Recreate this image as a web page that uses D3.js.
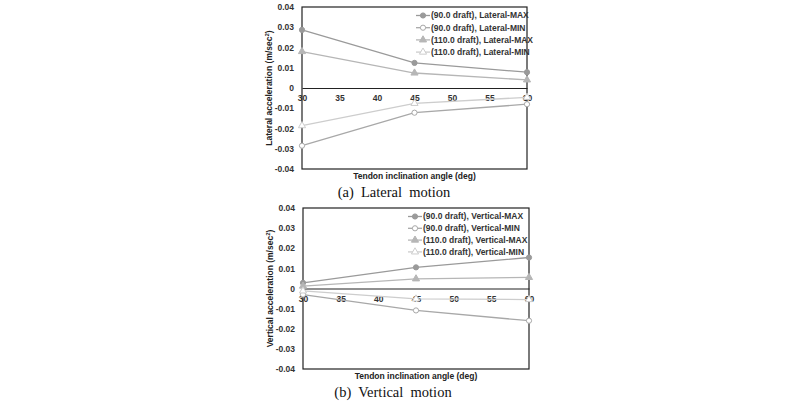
<!DOCTYPE html>
<html>
<head>
<meta charset="utf-8">
<script src="https://cdn.jsdelivr.net/npm/d3@7"></script>
<style>
  body { margin: 0; background: #fff; }
  svg { display: block; }
  .tick text { font-family: "Liberation Sans Narrow", "Liberation Sans", Arial, sans-serif; font-weight: bold; fill: #333; }
</style>
</head>
<body>
<svg id="chart" width="800" height="402"></svg>
<script>
// x values (tendon inclination angle, deg)
const angles = [30, 45, 60]
const xTicks = [30, 35, 40, 45, 50, 55, 60]
const yTicks = [-0.04, -0.03, -0.02, -0.01, 0, 0.01, 0.02, 0.03, 0.04]

// lateral motion
const lat90Max  = [0.0287, 0.0124, 0.0078]
const lat90Min  = [-0.0285, -0.0122, -0.0080]
const lat110Max = [0.0180, 0.0074, 0.0040]
const lat110Min = [-0.0186, -0.0076, -0.0046]

// vertical motion
const ver90Max  = [0.0028, 0.0105, 0.0154]
const ver90Min  = [-0.0030, -0.0109, -0.0160]
const ver110Max = [0.0012, 0.0048, 0.0055]
const ver110Min = [-0.0012, -0.0052, -0.0055]

const seriesStyle = [
  {color: "#9a9a9a", shape: "circle", fill: true},
  {color: "#a8a8a8", shape: "circle", fill: false},
  {color: "#b6b6b6", shape: "triangle", fill: true},
  {color: "#cdcdcd", shape: "triangle", fill: false}
]

const svg = d3.select("#chart")
const font = '"Liberation Sans Narrow", "Liberation Sans", Arial, sans-serif'

const drawMarker = (g, st, x, y) => {
  if (st.shape === "circle") {
    g.append("circle").attr("cx", x).attr("cy", y).attr("r", 2.6)
      .attr("fill", st.fill ? st.color : "#fff").attr("stroke", st.color).attr("stroke-width", 1)
  } else {
    const sym = d3.symbol().type(d3.symbolTriangle).size(22)
    g.append("path").attr("d", sym).attr("transform", `translate(${x},${y})`)
      .attr("fill", st.fill ? st.color : "#fff").attr("stroke", st.color).attr("stroke-width", 1)
  }
}

const drawPanel = (opt) => {
  const {left, right, top, bottom, series, names, yLabel, caption, captionX, legendX, legendY, legendStep} = opt
  const g = svg.append("g")
  const x = d3.scaleLinear().domain([30, 60]).range([left, right])
  const y = d3.scaleLinear().domain([-0.04, 0.04]).range([bottom, top])

  // y axis
  const yAxis = d3.axisLeft(y).tickValues(yTicks).tickSize(0).tickPadding(8)
    .tickFormat(d => d === 0 ? "0" : d.toFixed(2))
  const ya = g.append("g").attr("transform", `translate(${left},0)`).call(yAxis)
  ya.select(".domain").remove()
  ya.selectAll("text").attr("font-size", 8.5)

  // x axis along zero
  const xAxis = d3.axisBottom(x).tickValues(xTicks).tickSize(0).tickPadding(7)
  const xa = g.append("g").attr("transform", `translate(0,${y(0)})`).call(xAxis)
  xa.select(".domain").attr("stroke", "#222").attr("stroke-width", 1.2)
  xa.selectAll("text").attr("font-size", 8.5)

  // frame
  g.append("rect").attr("x", left).attr("y", top).attr("width", right - left).attr("height", bottom - top)
    .attr("fill", "none").attr("stroke", "#222").attr("stroke-width", 1.2)

  // lines + markers
  const line = d3.line().x((d, i) => x(angles[i])).y(d => y(d))
  series.forEach((vals, si) => {
    const st = seriesStyle[si]
    g.append("path").datum(vals).attr("d", line).attr("fill", "none")
      .attr("stroke", st.color).attr("stroke-width", 1.3)
    vals.forEach((v, i) => drawMarker(g, st, x(angles[i]), y(v)))
  })

  // legend
  names.forEach((n, i) => {
    const ly = legendY + i * legendStep
    const st = seriesStyle[i]
    g.append("line").attr("x1", legendX).attr("x2", legendX + 14).attr("y1", ly).attr("y2", ly)
      .attr("stroke", st.color).attr("stroke-width", 1.3)
    drawMarker(g, st, legendX + 7, ly)
    g.append("text").attr("x", legendX + 15).attr("y", ly).attr("dy", "0.35em")
      .attr("font-family", font).attr("font-weight", "bold").attr("font-size", 8.5)
      .attr("fill", "#333").text(n)
  })

  // axis titles
  const yl = g.append("text").attr("transform", `translate(${left - 30},${(top + bottom) / 2}) rotate(-90)`)
    .attr("text-anchor", "middle").attr("font-family", font).attr("font-weight", "bold")
    .attr("font-size", 8.5).attr("fill", "#222")
  yl.append("tspan").text(yLabel + " (m/sec")
  yl.append("tspan").attr("font-size", 6).attr("dy", -3).text("2")
  yl.append("tspan").attr("dy", 3).text(")")

  g.append("text").attr("x", (left + right) / 2).attr("y", bottom + 10).attr("text-anchor", "middle")
    .attr("font-family", font).attr("font-weight", "bold").attr("font-size", 8.5).attr("fill", "#222")
    .text("Tendon inclination angle (deg)")

  g.append("text").attr("x", captionX).attr("y", bottom + 28).attr("text-anchor", "middle")
    .attr("font-family", '"Liberation Serif", "Times New Roman", serif').attr("font-size", 14.5)
    .attr("fill", "#111").attr("xml:space", "preserve").style("white-space", "pre").text(caption)
}

drawPanel({
  left: 302, right: 527, top: 7, bottom: 169,
  series: [lat90Max, lat90Min, lat110Max, lat110Min],
  names: ["(90.0 draft), Lateral-MAX", "(90.0 draft), Lateral-MIN", "(110.0 draft), Lateral-MAX", "(110.0 draft), Lateral-MIN"],
  yLabel: "Lateral acceleration", caption: "(a)  Lateral  motion", captionX: 394,
  legendX: 416, legendY: 15.5, legendStep: 12.2
})

drawPanel({
  left: 303, right: 529, top: 208, bottom: 369,
  series: [ver90Max, ver90Min, ver110Max, ver110Min],
  names: ["(90.0 draft), Vertical-MAX", "(90.0 draft), Vertical-MIN", "(110.0 draft), Vertical-MAX", "(110.0 draft), Vertical-MIN"],
  yLabel: "Vertical acceleration", caption: "(b)  Vertical  motion", captionX: 393,
  legendX: 408, legendY: 216.5, legendStep: 11.8
})
</script>
</body>
</html>
